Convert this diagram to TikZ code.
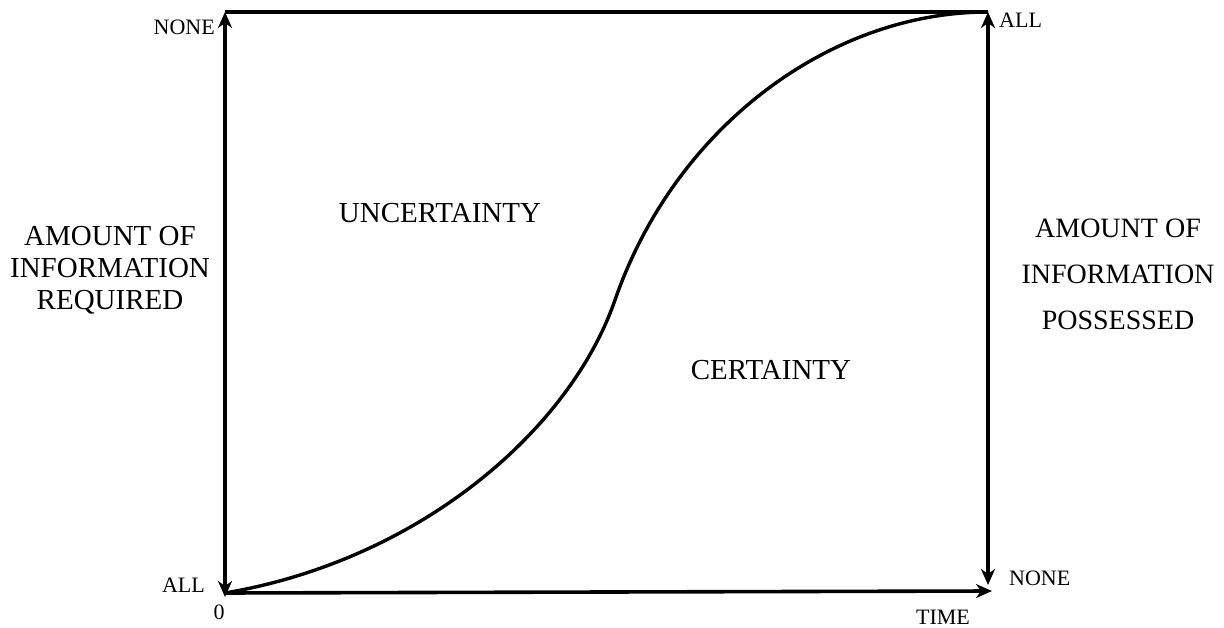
\documentclass[tikz,border=0pt]{standalone}
\usepackage{fontspec}
\setmainfont{Liberation Serif}
\usetikzlibrary{arrows.meta}
\begin{document}
\begin{tikzpicture}[x=1pt,y=-1pt,
  axis/.style={line width=3.6pt},
  tip/.tip={Stealth[length=16pt,width=14pt,inset=5pt]},
  big/.style={font=\fontsize{29}{32}\selectfont, inner sep=0pt, align=center},
  small/.style={font=\fontsize{22}{24}\selectfont, inner sep=0pt}]
\useasboundingbox (0,0) rectangle (1224,628);
\coordinate (BL) at (225,593);
\coordinate (BLtip) at (225,597);
\coordinate (TL) at (225,12);
\coordinate (TR) at (988,12);
\coordinate (BR) at (988,585);
\coordinate (BX) at (992,591);
\coordinate (MID) at (615,300);
% frame
\draw[axis,tip-tip] (TL) -- (BLtip);
\draw[axis] (TL) -- (TR);
\draw[axis,tip-tip] (TR) -- (BR);
\draw[axis,-tip] (BL) -- (BX);
% curve
\draw[line width=3.4pt] (BL) .. controls (420,560) and (570,430) .. (MID)
  .. controls (675,127) and (830,12) .. (TR);
% labels
\node[small,anchor=east] (none1) at (215,27) {NONE};
\node[small,anchor=west] (all1) at (999,20) {ALL};
\node[small,anchor=east] (all2) at (205,585) {ALL};
\node[small] (zero) at (219,612) {0};
\node[small,anchor=west] (none2) at (1009,578) {NONE};
\node[small] (time) at (943,617) {TIME};
\node[big] (req) at (110,270) {AMOUNT OF\\INFORMATION\\REQUIRED};
\node[big, font=\fontsize{28}{46}\selectfont] (pos) at (1118,274) {AMOUNT OF\\INFORMATION\\POSSESSED};
\node[big] (unc) at (440,213) {UNCERTAINTY};
\node[big] (cer) at (771,370) {CERTAINTY};
\end{tikzpicture}
\end{document}
